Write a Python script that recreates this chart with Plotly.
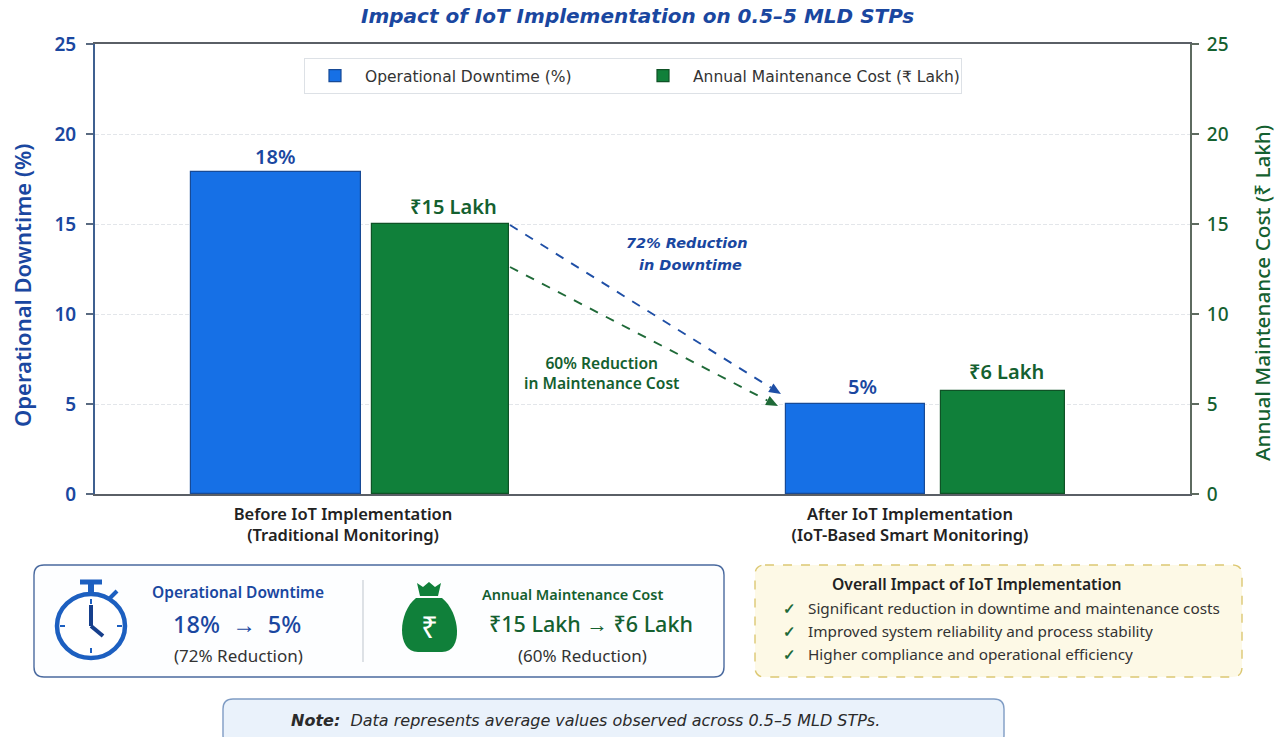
import math
import plotly.graph_objects as go

# ---------- data ----------
stages = ["Before IoT Implementation<br>(Traditional Monitoring)",
          "After IoT Implementation<br>(IoT-Based Smart Monitoring)"]
downtime_pct = [17.9, 5.0]
maintenance_lakh = [15.0, 5.7]
downtime_labels = ["18%", "5%"]
maintenance_labels = ["₹15 Lakh", "₹6 Lakh"]
y_ticks = [0, 5, 10, 15, 20, 25]

# ---------- layout helpers (pixel geometry of the page) ----------
W, H = 1281, 737
L, R, T, B = 95, 1190, 44, 494
FONT = "Noto Sans"
WIDE = "DejaVu Sans"
BLUE = "#1a47a0"
BAR_BLUE = "#1670e6"
GREEN = "#14602f"
BAR_GREEN = "#10803a"
INK = "#2b2b2b"

def px(x): return (x - L) / (R - L)
def py(y): return (B - y) / (B - T)

def to_path(cmds):
    out = []
    for c in cmds:
        vals = c[1:]
        coords = []
        for i in range(0, len(vals), 2):
            coords.append(f"{px(vals[i]):.5f},{py(vals[i+1]):.5f}")
        out.append(c[0] + " " + " ".join(coords))
    return " ".join(out)

def rounded(x0, y0, x1, y1, r):
    pts = [("M", x0 + r, y0), ("L", x1 - r, y0), ("Q", x1, y0, x1, y0 + r), ("L", x1, y1 - r),
           ("Q", x1, y1, x1 - r, y1), ("L", x0 + r, y1), ("Q", x0, y1, x0, y1 - r),
           ("L", x0, y0 + r), ("Q", x0, y0, x0 + r, y0)]
    return to_path(pts) + " Z"

shapes, notes = [], []

def path(d, fill=None, line=None, width=1, dash=None):
    ln = dict(color=line or "rgba(0,0,0,0)", width=width if line else 0)
    if dash: ln["dash"] = dash
    shapes.append(dict(type="path", xref="paper", yref="paper", path=d,
                       fillcolor=fill or "rgba(0,0,0,0)", line=ln))

def seg(x0, y0, x1, y1, color, width=1, dash=None):
    ln = dict(color=color, width=width)
    if dash: ln["dash"] = dash
    shapes.append(dict(type="line", xref="paper", yref="paper", x0=px(x0), y0=py(y0),
                       x1=px(x1), y1=py(y1), line=ln))

def text(x, y, s, size=14, color=INK, weight=400, style="normal", anchor="center", family=FONT, angle=0):
    notes.append(dict(xref="paper", yref="paper", x=px(x), y=py(y), text=s, showarrow=False,
                      xanchor=anchor, yanchor="middle", textangle=angle,
                      font=dict(family=family, size=size, color=color, weight=weight, style=style)))

def arrow(x0, y0, x1, y1, color):
    """Dashed line ending in a filled triangular head at (x1, y1)."""
    d = math.hypot(x1 - x0, y1 - y0)
    ux, uy = (x1 - x0) / d, (y1 - y0) / d
    bx, by = x1 - 12 * ux, y1 - 12 * uy
    seg(x0, y0, bx, by, color, 1.9, "dash")
    path(to_path([("M", x1, y1), ("L", bx - 5 * uy, by + 5 * ux), ("L", bx + 5 * uy, by - 5 * ux)]) + " Z", color)

# ---------- bars ----------
centers_blue = [276 - L, 855.5 - L]
widths_blue = [170, 139]
centers_green = [440.5 - L, 1003 - L]
widths_green = [137, 124]
stage_centers = [343 - L, 910 - L]

fig = go.Figure()
fig.add_bar(name="Operational Downtime (%)", x=centers_blue, y=downtime_pct, width=widths_blue,
            marker=dict(color=BAR_BLUE, line=dict(color="#174a96", width=1.2)), yaxis="y")
fig.add_bar(name="Annual Maintenance Cost (₹ Lakh)", x=centers_green, y=maintenance_lakh, width=widths_green,
            marker=dict(color=BAR_GREEN, line=dict(color="#0f5226", width=1.2)), yaxis="y2")

# value labels, tied to the bars through the data axes
for xs, ys, labels, col, ax, dxs, dys in [
        (centers_blue, downtime_pct, downtime_labels, BLUE, "y", [-1, 7], [15, 18]),
        (centers_green, maintenance_lakh, maintenance_labels, GREEN, "y2", [13, 3], [18, 20])]:
    for xv, yv, lab, dx, dy in zip(xs, ys, labels, dxs, dys):
        notes.append(dict(xref="x", yref=ax, x=xv, y=yv, text=lab, showarrow=False, xshift=dx, yshift=dy,
                          yanchor="middle", font=dict(family=FONT, size=20, color=col, weight=600)))

# ---------- reduction arrows ----------
arrow(510, 225, 781, 394, "#1f4fa6")
arrow(510, 267, 778, 406, "#1f6a38")
text(687, 243, "72% Reduction", 14.5, BLUE, 700, "italic", family=WIDE)
text(690, 265, "in Downtime", 14.5, BLUE, 700, "italic", family=WIDE)
text(601, 373, "60% Reduction<br>in Maintenance Cost", 15.6, GREEN, 600)

# ---------- summary panel ----------
path(rounded(34, 565, 724, 677, 10), "#fdfeff", "#4a6a9f", 1.4)
seg(363, 580, 363, 662, "#c9ced6", 1.2)

# stopwatch
CLK = "#1c5fc0"
shapes.append(dict(type="circle", xref="paper", yref="paper", x0=px(57), x1=px(125), y0=py(658), y1=py(594),
                   line=dict(color=CLK, width=4.5), fillcolor="white"))
seg(80, 582, 102, 582, CLK, 5)
seg(91, 584, 91, 594, CLK, 6)
seg(110, 598, 117, 591, CLK, 4)
seg(91, 599, 91, 604, CLK, 2)
seg(91, 648, 91, 653, CLK, 2)
seg(60, 626, 65, 626, CLK, 2)
seg(117, 626, 122, 626, CLK, 2)
seg(91, 626, 91, 605, "#163f8c", 4)
seg(91, 626, 103, 636, "#163f8c", 4)

# money bag
BAG = "#10803a"
path(to_path([("M", 416, 598), ("C", 398, 612, 396, 652, 418, 652), ("L", 442, 652),
              ("C", 464, 652, 460, 612, 442, 598)]) + " Z", BAG)
path(to_path([("M", 417, 583), ("L", 423, 587), ("L", 429, 582), ("L", 435, 587), ("L", 441, 583),
              ("L", 438, 596), ("L", 420, 596)]) + " Z", BAG)
text(429, 626, "₹", 30, "white", 400)

text(238, 592, "Operational Downtime", 15.5, BLUE, 600)
text(237, 624, "18%  →  5%", 23.5, BLUE, 500)
text(238, 655, "(72% Reduction)", 17, "#333333")
text(572, 594, "Annual Maintenance Cost", 14.5, GREEN, 600)
text(591, 624, "₹15 Lakh → ₹6 Lakh", 21.5, GREEN, 500)
text(582, 655, "(60% Reduction)", 17, "#333333")

# ---------- overall impact panel ----------
path(rounded(755, 565, 1242, 677, 10), "#fdf9e6", "#dcc873", 1.4, "dash")
text(977, 584, "Overall Impact of IoT Implementation", 15.7, "#222222", 600)
impacts = ["Significant reduction in downtime and maintenance costs",
           "Improved system reliability and process stability",
           "Higher compliance and operational efficiency"]
for yy, line in zip([608, 631, 654], impacts):
    text(789, yy, "✓", 15, "#1f6a38", 700)
    text(806, yy, line, 15.3, "#333333", anchor="left")

# ---------- note ----------
path(rounded(223, 699, 1004, 745, 10), "#eaf2fb", "#7f9cc4", 1.4)
text(585, 720, "<b>Note:</b>  Data represents average values observed across 0.5–5 MLD STPs.",
     16, "#2b2b2b", 400, "italic", family=WIDE)

# ---------- axis titles ----------
text(22, 286, "Operational Downtime (%)", 22, BLUE, 600, angle=-90)
text(1262, 293, "Annual Maintenance Cost (₹ Lakh)", 20.7, GREEN, 500, angle=-90)

# ---------- layout ----------
fig.update_layout(
    width=W, height=H, autosize=False,
    margin=dict(l=L, r=W - R, t=T, b=H - B, pad=0),
    paper_bgcolor="white", plot_bgcolor="white",
    barmode="overlay", bargap=0,
    font=dict(family=FONT, color=INK),
    title=dict(text="Impact of IoT Implementation on 0.5–5 MLD STPs", x=637.5 / W, xanchor="center",
               y=1 - 16 / H, yanchor="middle",
               font=dict(family=WIDE, size=20, color=BLUE, style="italic", weight=700)),
    xaxis=dict(range=[0, R - L], tickvals=stage_centers, ticktext=stages, ticks="", showgrid=False,
               zeroline=False, showline=True, mirror=True, linecolor="#5a5f66", linewidth=2,
               ticklabelstandoff=4,
               tickfont=dict(family=FONT, size=16.5, color="#222222", weight=600)),
    yaxis=dict(range=[0, 25], tickvals=y_ticks, showgrid=True, gridcolor="#e3e6ea", griddash="4px,2px", gridwidth=1,
               zeroline=False, showline=True, linecolor="#3f6090", linewidth=2, ticks="outside", ticklen=7,
               tickcolor="#5a6a80", tickwidth=1.5, ticklabelstandoff=6,
               tickfont=dict(family=FONT, size=19, color=BLUE, weight=600)),
    yaxis2=dict(range=[0, 25], tickvals=y_ticks, overlaying="y", side="right", showgrid=False,
                zeroline=False, showline=True, linecolor="#5e6b60", linewidth=2, ticks="outside", ticklen=7,
                tickcolor="#5e6b60", tickwidth=1.5, ticklabelstandoff=4,
                tickfont=dict(family=FONT, size=19, color=GREEN, weight=500)),
    legend=dict(orientation="h", x=px(304), y=py(58), xanchor="left", yanchor="top",
                bgcolor="white", bordercolor="#dde1e6", borderwidth=1, itemwidth=50,
                font=dict(family=WIDE, size=15.5, color="#333333"), entrywidth=263, entrywidthmode="pixels"),
    shapes=shapes, annotations=notes,
)

fig.write_html("out.html", config={"displayModeBar": False},
               post_script="document.body.style.margin='0';document.body.style.overflow='hidden';")
